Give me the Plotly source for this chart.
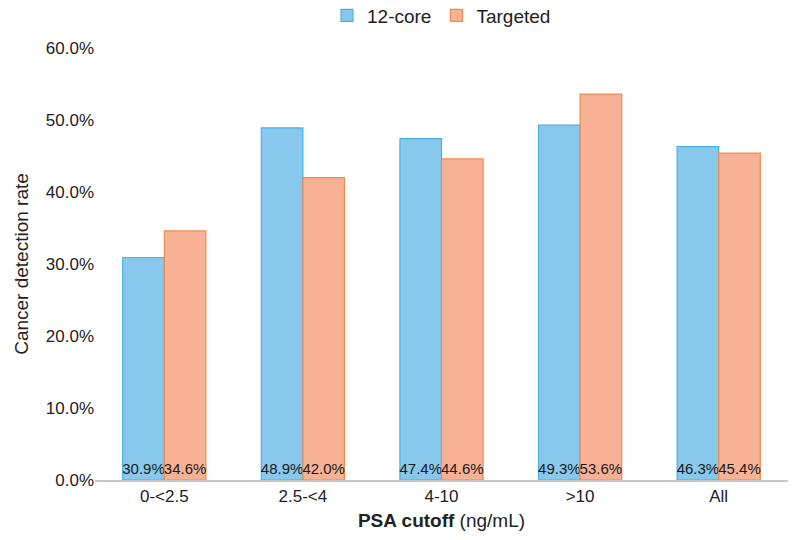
import plotly.graph_objects as go

categories = ["0-<2.5", "2.5-<4", "4-10", ">10", "All"]
core12 = [30.9, 48.9, 47.4, 49.3, 46.3]
targeted = [34.6, 42.0, 44.6, 53.6, 45.4]

font = "Liberation Sans, Arial, sans-serif"

fig = go.Figure()
fig.add_trace(go.Bar(
    name="12-core", x=categories, y=[v / 100 for v in core12],
    text=[f"{v:.1f}%" for v in core12],
    textposition="inside", insidetextanchor="start", textangle=0,
    textfont=dict(family=font, size=15, color="#1a1a1a"),
    marker=dict(color="#88c8ec", line=dict(color="#45b4e4", width=1.2)),
))
fig.add_trace(go.Bar(
    name="Targeted", x=categories, y=[v / 100 for v in targeted],
    text=[f"{v:.1f}%" for v in targeted],
    textposition="inside", insidetextanchor="start", textangle=0,
    textfont=dict(family=font, size=15, color="#1a1a1a"),
    marker=dict(color="#f7b296", line=dict(color="#f08a4e", width=1.2)),
))

fig.update_layout(
    width=802, height=540,
    margin=dict(l=95, r=14, t=48, b=60, autoexpand=False),
    paper_bgcolor="white", plot_bgcolor="white",
    barmode="group", bargap=0.4, bargroupgap=0,
    font=dict(family=font, size=17, color="#222222"),
    uniformtext=dict(minsize=15, mode="show"),
    legend=dict(orientation="h", x=0.5, xanchor="center", y=1.075, yanchor="middle",
                font=dict(size=19), itemwidth=30, traceorder="normal",
                tracegroupgap=0, itemclick=False),
    xaxis=dict(
        title=dict(text="<b>PSA cutoff</b> (ng/mL)", font=dict(size=19), standoff=9),
        showline=True, linecolor="#c8c8c8", linewidth=1.5,
        ticks="", tickfont=dict(size=17), automargin=False,
    ),
    yaxis=dict(
        title=dict(text="Cancer detection rate", font=dict(size=19), standoff=12),
        range=[0, 0.6], dtick=0.1, tickformat=".1%",
        showgrid=False, zeroline=False, showline=False,
        tickfont=dict(size=17), automargin=False,
    ),
)

fig.write_html("out.html")
